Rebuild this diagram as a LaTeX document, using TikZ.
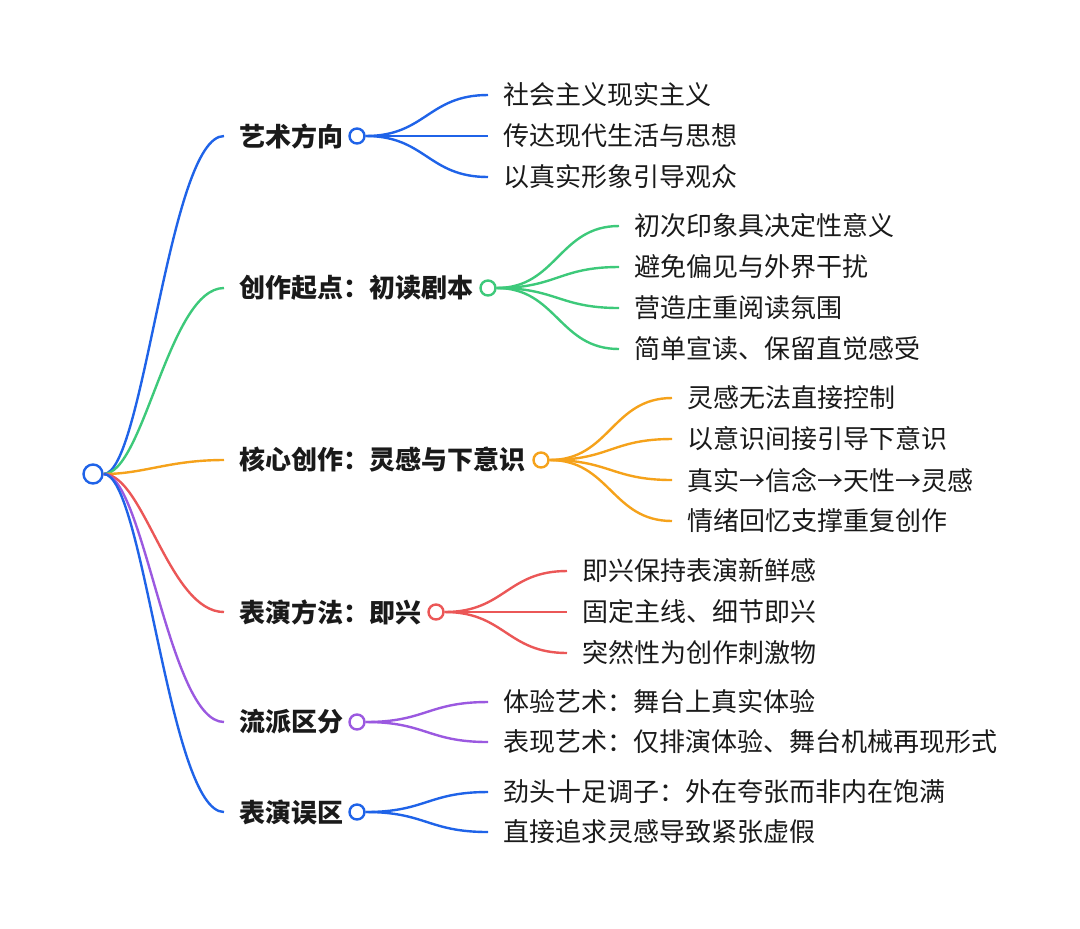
\documentclass[tikz,border=0pt]{standalone}
\usepackage{fontspec}
\setmainfont{Noto Sans CJK SC}
\definecolor{Blue}{HTML}{1F63E8}
\definecolor{Green}{HTML}{3DC97A}
\definecolor{Orange}{HTML}{F5A21B}
\definecolor{Red}{HTML}{EB5757}
\definecolor{Purple}{HTML}{9B59E0}
\definecolor{Ink}{HTML}{1A1A1A}

\begin{document}
\begin{tikzpicture}[
  x=0.5pt,y=-0.5pt,
  topic/.style={anchor=west,inner xsep=7.5pt,inner ysep=2pt,font=\fontsize{13}{15}\selectfont\bfseries,text=Ink},
  leaf/.style={anchor=west,inner xsep=7.5pt,inner ysep=2pt,font=\fontsize{13}{15}\selectfont,text=Ink},
  knot/.style={circle,draw=#1,fill=white,line width=1.2pt,minimum size=7.5pt,inner sep=0pt},
  link/.style={draw=#1,line width=1.2pt}
]
\useasboundingbox (0,0) rectangle (1080,928);
\node[knot=Blue,minimum size=9.5pt] (root) at (93,474) {};
% topics
\node[topic] (art) at (224,136) {艺术方向};
\node[topic] (start) at (224,288) {创作起点：初读剧本};
\node[topic] (core) at (224,460) {核心创作：灵感与下意识};
\node[topic] (impro) at (224,612) {表演方法：即兴};
\node[topic] (school) at (224,722) {流派区分};
\node[topic] (trap) at (224,812) {表演误区};
\node[knot=Blue] (artk) at (357,136) {};
\node[knot=Green] (startk) at (488,288) {};
\node[knot=Orange] (corek) at (541,460) {};
\node[knot=Red] (improk) at (436,612) {};
\node[knot=Purple] (schoolk) at (357,722) {};
\node[knot=Blue] (trapk) at (357,812) {};
% leaves
\node[leaf] (art1) at (488,95) {社会主义现实主义};
\node[leaf] (art2) at (488,136) {传达现代生活与思想};
\node[leaf] (art3) at (488,177) {以真实形象引导观众};
\node[leaf] (start1) at (619,226) {初次印象具决定性意义};
\node[leaf] (start2) at (619,267) {避免偏见与外界干扰};
\node[leaf] (start3) at (619,308) {营造庄重阅读氛围};
\node[leaf] (start4) at (619,349) {简单宣读、保留直觉感受};
\node[leaf] (core1) at (672,398) {灵感无法直接控制};
\node[leaf] (core2) at (672,439) {以意识间接引导下意识};
\node[leaf] (core3) at (672,480) {真实→信念→天性→灵感};
\node[leaf] (core4) at (672,521) {情绪回忆支撑重复创作};
\node[leaf] (impro1) at (567,571) {即兴保持表演新鲜感};
\node[leaf] (impro2) at (567,612) {固定主线、细节即兴};
\node[leaf] (impro3) at (567,653) {突然性为创作刺激物};
\node[leaf] (school1) at (488,702) {体验艺术：舞台上真实体验};
\node[leaf] (school2) at (488,742) {表现艺术：仅排演体验、舞台机械再现形式};
\node[leaf] (trap1) at (488,792) {劲头十足调子：外在夸张而非内在饱满};
\node[leaf] (trap2) at (488,832) {直接追求灵感导致紧张虚假};
% root links
\draw[link=Blue] (root.east) .. controls +(40,0) and +(-55,0) .. (art.west);
\draw[link=Green] (root.east) .. controls +(40,0) and +(-55,0) .. (start.west);
\draw[link=Orange] (root.east) .. controls +(40,0) and +(-55,0) .. (core.west);
\draw[link=Red] (root.east) .. controls +(40,0) and +(-55,0) .. (impro.west);
\draw[link=Purple] (root.east) .. controls +(40,0) and +(-55,0) .. (school.west);
\draw[link=Blue] (root.east) .. controls +(40,0) and +(-55,0) .. (trap.west);
% leaf links
\draw[link=Blue] (artk.east) .. controls +(60,0) and +(-60,0) .. (art1.west);
\draw[link=Blue] (artk.east) -- (art2.west);
\draw[link=Blue] (artk.east) .. controls +(60,0) and +(-60,0) .. (art3.west);
\draw[link=Green] (startk.east) .. controls +(60,0) and +(-60,0) .. (start1.west);
\draw[link=Green] (startk.east) .. controls +(60,0) and +(-60,0) .. (start2.west);
\draw[link=Green] (startk.east) .. controls +(60,0) and +(-60,0) .. (start3.west);
\draw[link=Green] (startk.east) .. controls +(60,0) and +(-60,0) .. (start4.west);
\draw[link=Orange] (corek.east) .. controls +(60,0) and +(-60,0) .. (core1.west);
\draw[link=Orange] (corek.east) .. controls +(60,0) and +(-60,0) .. (core2.west);
\draw[link=Orange] (corek.east) .. controls +(60,0) and +(-60,0) .. (core3.west);
\draw[link=Orange] (corek.east) .. controls +(60,0) and +(-60,0) .. (core4.west);
\draw[link=Red] (improk.east) .. controls +(60,0) and +(-60,0) .. (impro1.west);
\draw[link=Red] (improk.east) -- (impro2.west);
\draw[link=Red] (improk.east) .. controls +(60,0) and +(-60,0) .. (impro3.west);
\draw[link=Purple] (schoolk.east) .. controls +(60,0) and +(-60,0) .. (school1.west);
\draw[link=Purple] (schoolk.east) .. controls +(60,0) and +(-60,0) .. (school2.west);
\draw[link=Blue] (trapk.east) .. controls +(60,0) and +(-60,0) .. (trap1.west);
\draw[link=Blue] (trapk.east) .. controls +(60,0) and +(-60,0) .. (trap2.west);
\end{tikzpicture}
\end{document}
